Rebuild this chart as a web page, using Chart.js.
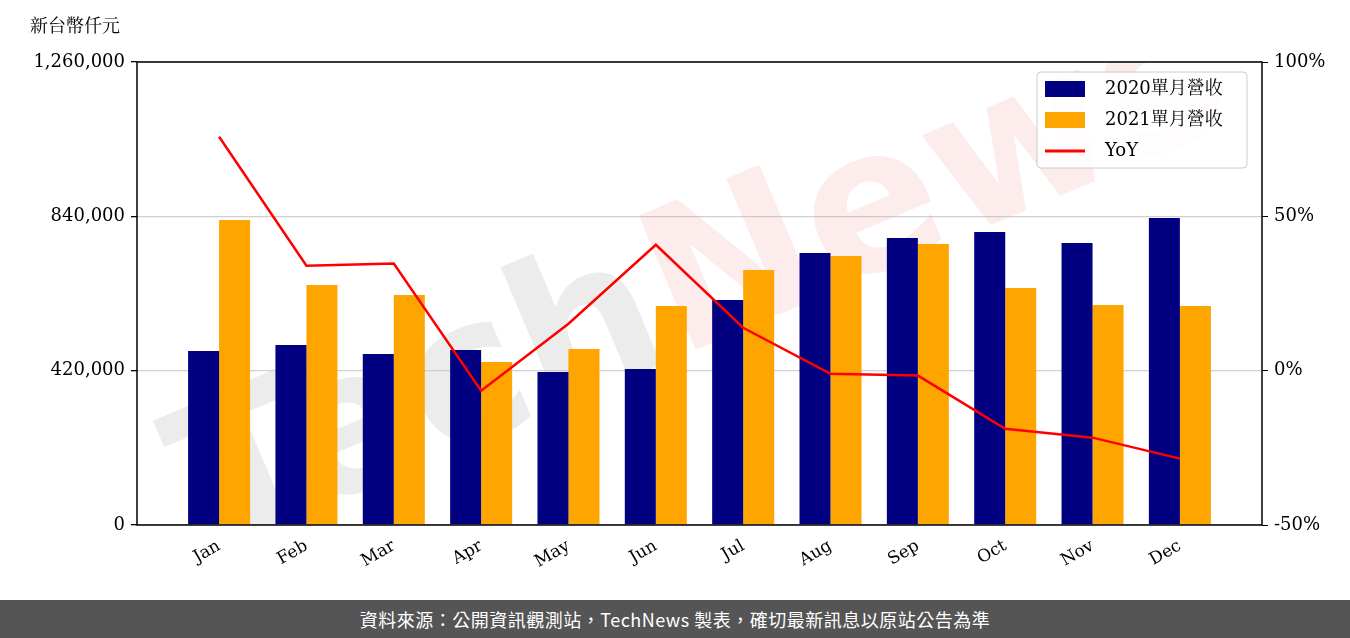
<!DOCTYPE html>
<html><head><meta charset="utf-8">
<script src="https://cdn.jsdelivr.net/npm/chart.js@4"></script>
<style>
body{margin:0;background:#fff;width:1350px;height:638px;overflow:hidden}
#wrap{position:relative;width:1350px;height:600px}
#foot{height:38px;background:#555;color:#fff;font:18px "Noto Sans CJK TC",sans-serif;letter-spacing:0.5px;text-align:center;line-height:38px}
</style></head><body>
<div id="wrap"><canvas id="c"></canvas></div>
<div id="foot">資料來源：公開資訊觀測站，TechNews 製表，確切最新訊息以原站公告為準</div>
<script>
const months = ["Jan","Feb","Mar","Apr","May","Jun","Jul","Aug","Sep","Oct","Nov","Dec"];
const rev2020 = [473500,489800,465400,476200,416400,424500,612300,740200,781000,797400,767400,835500];
const rev2021 = [830000,653100,625900,443600,479000,596000,694000,732000,764700,645000,598700,596000];
const yoy = [75.8,34.0,34.7,-6.5,15.2,40.8,13.9,-1.0,-1.6,-18.8,-21.7,-28.5];
const F = '"DejaVu Serif","Noto Serif CJK TC","Noto Sans CJK TC",serif';

const pts = a => a.map((v,i)=>({x:i,y:v}));
const deco = {
  id:'deco',
  beforeDatasetsDraw(ch){
    const c=ch.ctx, a=ch.chartArea;
    c.save();
    c.beginPath(); c.rect(a.left,a.top,a.right-a.left,a.bottom-a.top); c.clip();
    c.translate(680,300); c.rotate(-0.4);
    c.font='bold 200px "DejaVu Sans",sans-serif';
    c.textAlign='center'; c.textBaseline='middle';
    c.fillStyle='rgba(200,200,200,0.35)'; c.fillText('Tech',-280,0);
    c.fillStyle='rgba(240,150,150,0.18)'; c.fillText('News',280,0);
    c.restore();
  },
  afterDraw(ch){
    const c=ch.ctx, a=ch.chartArea;
    c.save();
    c.strokeStyle='#000'; c.lineWidth=1.5;
    c.strokeRect(a.left,a.top,a.right-a.left,a.bottom-a.top);
    c.font='18px '+F; c.fillStyle='#000'; c.textBaseline='middle';
    c.fillText('新台幣仟元',30,27);
    const x=a.right-225, y=a.top+10;
    c.fillStyle='rgba(255,255,255,0.85)'; c.strokeStyle='#ccc'; c.lineWidth=1;
    c.beginPath(); c.roundRect(x,y,210,96,4); c.fill(); c.stroke();
    const items=[['#000080','2020單月營收','box'],['#FFA500','2021單月營收','box'],['#FF0000','YoY','line']];
    items.forEach((it,i)=>{
      const yy=y+17+i*31;
      if(it[2]==='box'){c.fillStyle=it[0]; c.fillRect(x+8,yy-8,40,16);}
      else{c.strokeStyle=it[0]; c.lineWidth=3; c.beginPath(); c.moveTo(x+8,yy); c.lineTo(x+48,yy); c.stroke();}
      c.fillStyle='#000'; c.font='18px '+F; c.fillText(it[1],x+68,yy);
    });
    c.restore();
  }
};

new Chart(document.getElementById('c'),{
  data:{datasets:[
    {type:'line',data:pts(yoy),yAxisID:'y2',borderColor:'#FF0000',borderWidth:2.5,pointRadius:0,tension:0},
    {type:'bar',data:pts(rev2020),backgroundColor:'#000080',categoryPercentage:0.71,barPercentage:1},
    {type:'bar',data:pts(rev2021),backgroundColor:'#FFA500',categoryPercentage:0.71,barPercentage:1}
  ]},
  plugins:[deco],
  options:{
    responsive:true,maintainAspectRatio:false,animation:false,
    layout:{padding:{left:0,right:4,top:62,bottom:0}},
    plugins:{legend:{display:false},tooltip:{enabled:false}},
    scales:{
      x:{type:'linear',min:-0.94,max:11.94,offset:false,
        afterBuildTicks:s=>{s.ticks=months.map((m,i)=>({value:i}));},
        ticks:{callback:v=>months[v],maxRotation:30,minRotation:30,color:'#000',font:{family:F,size:17}},
        grid:{display:false},border:{display:false},
        afterFit:s=>{s.height=75;}},
      y:{min:0,max:1260000,position:'left',
        afterBuildTicks:s=>{s.ticks=[0,420000,840000,1260000].map(v=>({value:v}));},
        ticks:{callback:v=>v.toLocaleString('en-US'),color:'#000',font:{family:F,size:18},padding:6},
        grid:{color:'#d0d0d0',lineWidth:1.3,tickColor:'#000',tickLength:6},border:{display:false},
        afterFit:s=>{s.width=137;}},
      y2:{min:-50,max:100,position:'right',
        afterBuildTicks:s=>{s.ticks=[-50,0,50,100].map(v=>({value:v}));},
        ticks:{callback:v=>v+'%',color:'#000',font:{family:F,size:18},padding:6},
        grid:{drawOnChartArea:false,tickColor:'#000',tickLength:6},border:{display:false},
        afterFit:s=>{s.width=84;}}
    }
  }
});
</script></body></html>
